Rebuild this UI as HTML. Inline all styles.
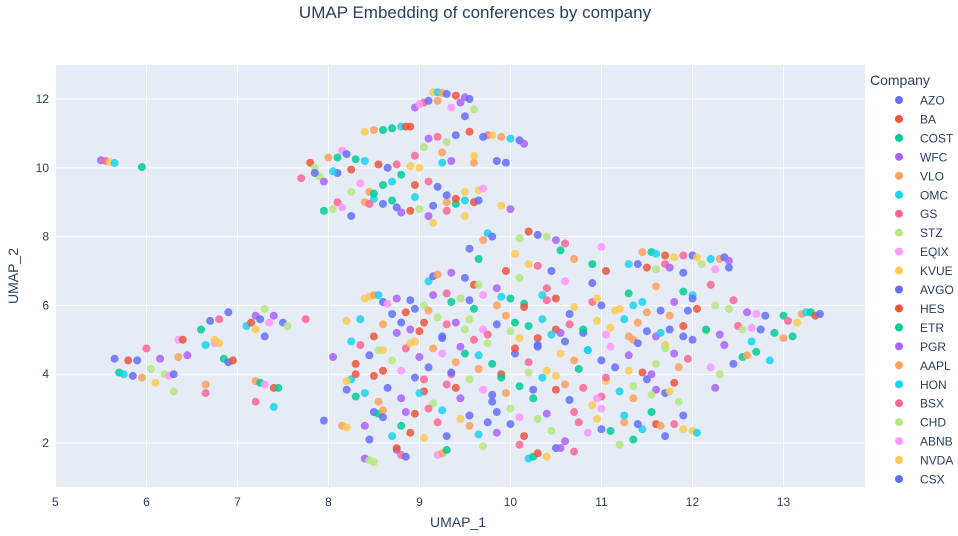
<!DOCTYPE html>
<html><head><meta charset="utf-8"><style>
body{margin:0;background:#fff;font-family:"Liberation Sans",Arial,sans-serif}
svg text{font-family:"Liberation Sans",Arial,sans-serif}
</style></head><body>
<svg id="chart" width="958" height="531">
<rect x="0" y="0" width="958" height="531" fill="#fff"/>
<rect x="55" y="65" width="810" height="422" fill="#e5ecf6"/>
<g id="grid"></g><g id="ticks"></g><g id="marks"></g><g id="legend"></g>
<text x="475" y="18" text-anchor="middle" font-size="17" fill="#2a3f5f">UMAP Embedding of conferences by company</text>
<text x="458" y="527" text-anchor="middle" font-size="14" fill="#2a3f5f">UMAP_1</text>
<text x="18" y="276" text-anchor="middle" font-size="14" fill="#2a3f5f" transform="rotate(-90 18 276)">UMAP_2</text>
</svg>
<script>
const companies=["AZO","BA","COST","WFC","VLO","OMC","GS","STZ","EQIX","KVUE","AVGO","HES","ETR","PGR","AAPL","HON","BSX","CHD","ABNB","NVDA","CSX"];
const palette=["#636efa","#EF553B","#00cc96","#ab63fa","#FFA15A","#19d3f3","#FF6692","#B6E880","#FF97FF","#FECB52"];
const xTicks=[5,6,7,8,9,10,11,12,13];
const yTicks=[2,4,6,8,10,12];
const xs=[5.5,5.55,5.6,5.65,5.95,
5.65,5.7,5.75,5.8,5.85,5.9,5.95,6.0,6.05,6.1,6.15,6.2,6.25,6.3,6.35,6.4,6.35,6.45,6.3,
6.6,6.65,6.7,6.75,6.8,6.85,6.9,6.95,6.8,6.65,6.65,6.75,6.9,
7.1,7.15,7.2,7.25,7.3,7.35,7.4,7.5,7.55,7.75,7.2,7.25,7.3,7.4,7.45,7.2,7.4,7.3,7.2,
7.95,8.15,8.2,8.25,8.2,8.3,
8.4,8.45,8.5,8.8,8.85,8.75,9.2,9.25,9.3,10.2,10.25,10.3,10.4,10.5,10.7,
9.15,9.2,9.25,9.3,9.4,9.5,9.55,9.0,8.95,9.05,9.35,9.6,9.5,8.5,8.6,8.7,8.8,8.9,8.4,9.75,9.7,9.8,9.9,10.0,10.1,10.15,9.4,9.55,9.3,9.2,9.1,9.05,8.15,8.2,8.1,8.0,8.3,8.4,8.55,8.65,8.75,8.9,9.0,9.25,9.35,9.6,9.85,9.95,7.8,7.85,7.9,7.7,7.95,8.1,8.35,8.45,8.6,8.7,8.8,8.95,9.1,9.2,9.5,9.65,8.4,8.5,8.6,8.75,8.8,8.9,9.0,9.1,8.1,8.05,8.15,8.25,7.95,9.3,9.4,9.5,9.6,9.65,9.3,9.5,9.15,9.75,9.7,9.8,10.0,10.2,10.3,10.4,10.5,10.6,10.1,9.55,9.65,
11.0,11.45,11.55,11.6,11.7,11.8,11.9,12.0,12.05,12.2,12.3,12.35,12.4,11.4,11.5,11.6,11.7,11.75,12.1,12.4,12.25,10.55,10.7,10.9,11.3,11.05,11.9,12.2,10.05,10.2,
9.1,9.15,9.2,9.35,9.5,9.6,9.65,9.85,10.1,10.4,10.6,10.9,11.3,11.6,11.9,12.0,9.95,10.3,10.45,
8.4,8.45,8.5,8.55,8.6,8.75,8.85,8.95,9.05,9.15,9.3,9.45,9.55,9.7,9.85,10.0,10.15,10.35,10.5,10.7,10.9,11.0,11.15,11.35,11.5,11.65,11.8,11.95,12.05,12.25,12.4,12.45,12.6,12.7,12.8,13.0,13.2,13.25,13.3,13.35,13.4,13.05,13.15,
8.2,8.35,8.6,8.7,8.8,8.9,9.05,9.2,9.3,9.4,9.55,9.7,9.85,9.95,10.05,10.2,10.35,10.5,10.65,10.8,10.95,11.1,11.25,11.4,11.5,11.6,11.75,11.9,12.15,12.3,12.5,12.55,12.65,12.75,12.9,13.0,13.1,8.25,8.5,8.95,9.25,9.6,10.1,10.45,11.3,12.0,
8.05,8.3,8.45,8.55,8.7,8.85,9.0,9.1,9.25,9.4,9.5,9.65,9.8,9.9,10.05,10.2,10.4,10.55,10.7,10.85,11.0,11.15,11.3,11.45,11.6,11.8,11.95,12.2,12.3,12.45,12.55,12.6,12.7,12.85,8.6,9.35,10.3,11.7,
8.2,8.4,8.55,8.65,8.8,8.95,9.05,9.15,9.3,9.45,9.55,9.7,9.8,9.95,10.1,10.25,10.35,10.5,10.65,10.8,10.9,11.05,11.2,11.35,11.5,11.6,11.7,11.8,11.85,8.85,9.1,10.0,11.0,
8.5,8.55,8.6,8.7,8.8,8.9,9.05,9.2,9.3,9.45,9.55,9.65,9.75,9.85,10.0,10.15,10.3,10.45,10.6,10.75,10.85,11.0,11.1,11.25,11.35,11.45,11.6,11.7,11.8,11.9,12.0,12.05,11.65,11.4,8.45,8.4,8.75,9.7,10.1,10.55,11.2,
8.65,8.9,9.1,9.35,9.6,9.9,10.15,10.4,10.65,10.95,11.2,11.45,11.75,12.0,8.75,9.0,9.25,9.5,9.75,10.0,10.3,10.55,10.8,11.05,11.35,11.65,11.9,12.15,8.35,8.6,8.9,9.15,9.45,9.75,10.05,10.3,10.6,10.85,11.1,11.4,11.7,12.35,12.65,8.5,8.8,9.05,9.35,9.65,9.9,10.2,10.5,10.75,11.05,11.3,11.55,11.85,8.6,8.95,9.25,9.55,9.85,10.1,10.4,10.7,10.95,11.25,11.55,11.9,8.3,9.0,9.4,9.8,10.25,10.6,11.0,11.35,11.75,12.25,11.55,10.95,
9.1,9.0,8.85,9.2,9.45,8.25,8.5,8.95,9.3,9.7,8.45,8.7,9.15,9.4,9.9,8.95,9.25,9.6,7.85,8.05,8.25];
const ys=[10.22,10.2,10.17,10.14,10.02,
4.45,4.05,4.0,4.4,3.95,4.4,3.9,4.75,4.15,3.75,4.45,4.0,3.95,4.0,5.0,5.0,4.5,4.55,3.5,
5.3,4.85,5.55,4.9,5.6,4.45,4.35,4.4,4.9,3.45,3.7,5.0,5.8,
5.4,5.5,5.7,5.6,5.9,5.5,5.7,5.5,5.4,5.6,3.8,3.75,3.7,3.6,3.6,3.2,3.05,5.1,5.3,
2.65,2.5,2.45,3.85,3.55,4.0,
1.55,1.5,1.45,1.65,1.6,1.8,1.65,1.7,1.8,1.55,1.6,1.7,1.6,1.85,1.75,
12.2,12.2,12.18,12.15,12.1,12.05,12.0,11.85,11.75,11.9,11.75,11.7,11.5,11.1,11.1,11.15,11.2,11.2,11.05,10.95,10.9,10.95,10.9,10.85,10.8,10.7,10.95,11.05,10.75,10.9,10.85,10.6,10.5,10.4,10.3,10.3,10.25,10.2,10.1,10.0,10.1,10.05,10.0,10.15,10.2,10.15,10.2,10.15,10.15,10.0,9.75,9.7,9.6,9.85,9.55,9.3,9.5,9.6,9.8,9.5,9.6,9.45,9.3,9.35,9.0,9.1,8.95,8.85,8.7,8.75,8.8,8.6,9.0,8.8,8.85,8.6,8.75,9.0,8.95,9.05,9.0,9.05,8.75,8.6,8.4,8.1,7.9,8.0,8.8,8.15,8.05,8.0,7.9,7.8,7.95,7.65,7.35,
7.7,7.55,7.55,7.5,7.45,7.4,7.45,7.45,7.4,7.35,7.35,7.4,7.3,7.2,7.1,7.05,7.2,7.1,7.2,7.1,7.05,7.6,7.35,7.2,7.2,7.0,6.95,6.6,7.5,7.2,
6.7,6.85,6.9,6.95,6.8,6.6,6.6,6.5,6.8,6.5,6.7,6.65,6.35,6.55,6.4,6.3,7.0,7.15,7.0,
6.2,6.25,6.3,6.3,6.1,6.2,5.8,5.9,6.0,6.3,6.35,6.2,6.15,6.3,6.0,6.2,6.05,6.3,6.2,5.95,6.1,6.0,5.85,6.0,5.8,5.85,6.1,5.85,5.9,6.0,5.9,6.15,5.8,5.75,5.7,5.7,5.75,5.8,5.8,5.7,5.75,5.55,5.5,
5.55,5.6,5.45,5.75,5.5,5.3,5.5,5.65,5.45,5.5,5.6,5.3,5.45,5.7,5.5,5.4,5.6,5.3,5.45,5.2,5.55,5.35,5.6,5.5,5.25,5.1,5.3,5.4,5.25,5.15,5.4,5.3,5.35,5.3,5.2,5.05,5.1,4.95,5.1,4.95,5.05,5.0,5.05,5.15,5.1,5.0,
4.5,4.3,4.55,4.7,4.4,4.75,4.5,4.2,4.6,4.35,4.6,4.55,4.3,4.0,4.6,4.35,4.1,4.6,4.4,4.7,4.4,4.2,4.55,4.05,4.3,4.6,4.45,4.2,4.0,4.3,4.5,4.55,4.65,4.4,4.1,4.0,4.8,4.85,
3.8,3.45,3.2,3.6,3.3,3.9,3.5,3.15,3.7,3.3,3.85,3.55,3.2,3.45,3.65,3.3,3.9,3.55,3.25,3.6,3.1,3.8,3.5,3.3,3.85,3.55,3.45,3.75,3.2,2.9,3.0,3.0,3.0,
2.9,2.85,2.95,2.2,2.5,2.3,2.15,2.6,2.2,2.7,2.5,2.25,2.6,2.3,2.55,2.2,2.7,2.35,2.05,2.6,2.3,2.4,2.35,2.6,2.1,2.4,2.55,2.2,2.55,2.4,2.35,2.3,2.5,2.55,2.1,2.5,1.85,1.9,1.95,1.85,1.95,
6.05,6.15,5.85,6.1,5.9,6.25,5.95,6.15,5.75,6.2,5.9,6.1,5.7,6.2,5.2,5.25,5.1,5.3,5.15,5.25,5.05,5.2,5.3,5.15,5.0,5.2,5.1,5.3,4.85,4.7,4.9,4.75,4.8,4.9,4.75,4.85,4.95,4.7,4.8,4.9,4.75,4.85,4.95,3.95,4.1,3.85,4.05,4.15,3.9,4.05,3.95,4.15,3.9,4.1,4.0,4.2,2.75,2.85,2.95,2.8,2.9,2.75,2.85,2.9,2.7,2.8,2.9,2.8,3.35,3.45,3.6,3.4,3.55,3.7,3.35,3.65,3.5,3.6,3.4,3.3,
11.95,11.85,11.2,11.95,11.9,9.3,9.25,9.15,9.2,9.4,8.95,9.05,8.9,9.1,8.9,10.35,10.45,10.35,9.85,9.9,9.95];
const codes="dgjpcamfbukeqhtnrsvilodhcfasgmkbjqetuplnvridahgocsbmqfkjuetpvlnrhgadsocfmbtkqjpeulnvrdgshaocmfbtqkjepunvlrgdhsacomfbkqtjpneuvlrhgdasocfmbqktjepuvnlrdghsacomfbkqtjpeunlvrdghacsomfbtqkjpeunvlrgdhascomfbkqtjpuenvlrdhgsacomfbqktjepunlvrdghasocmfbtqkjpeunvlrhgdsacofmbkqtjpeuvnlrgdhsaocmfbqktjpeunvlrdghsacomfbtkqjpeunlvrhgdasocfmbkqtjepuvnlrdgshacomfbqktjpeunvlrgdhsaocmfbkqtjpeunvlrdghsacofmbtqkjepunvlrhdgsacomfbkqtjpeuvnlrgdhsaocmfbqktjpeunlvrqhbdmsefacgtjonrlukpivhdfbsqaemrtcgjnoklpuvi";
const X0=55,X1=865,xmin=4.9956,xmax=13.896,Y0=65,Y1=487,ymin=0.72,ymax=12.99;
const sx=v=>X0+(v-xmin)/(xmax-xmin)*(X1-X0);
const sy=v=>Y1-(v-ymin)/(ymax-ymin)*(Y1-Y0);
const NS="http://www.w3.org/2000/svg";
function mk(tag,attrs,parent){const e=document.createElementNS(NS,tag);for(const k in attrs)e.setAttribute(k,attrs[k]);parent.appendChild(e);return e;}
const grid=document.getElementById('grid'),ticks=document.getElementById('ticks'),marks=document.getElementById('marks'),legend=document.getElementById('legend');
xTicks.forEach(t=>{
 const l=mk('line',{x1:sx(t),x2:sx(t),y1:Y0,y2:Y1,stroke:'#fff','stroke-width':1},grid);
 
 
 const tx=mk('text',{x:sx(t),y:Y1+19,'text-anchor':'middle','font-size':12,fill:'#2a3f5f'},ticks);
 tx.textContent=t;
 
 
});
yTicks.forEach(t=>{
 const l=mk('line',{x1:X0,x2:X1,y1:sy(t),y2:sy(t),stroke:'#fff','stroke-width':1},grid);
 
 
 const tx=mk('text',{x:X0-6,y:sy(t)+4,'text-anchor':'end','font-size':12,fill:'#2a3f5f'},ticks);
 tx.textContent=t;
 
 
});
const n=Math.min(xs.length,ys.length);
for(let i=0;i<n;i++){
 const ci=(codes.charCodeAt(i%codes.length)-97)%companies.length;
 const c=mk('circle',{cx:sx(xs[i]).toFixed(1),cy:sy(ys[i]).toFixed(1),r:4,fill:palette[ci%10],opacity:0.85},marks);
 
 
}
const lt=mk('text',{x:870,y:85,'font-size':14,fill:'#2a3f5f'},legend);
lt.textContent='Company';


companies.forEach((name,i)=>{
 const y=100+i*18.95;
 const g=mk('g',{},legend);
 
 
 mk('circle',{cx:899,cy:y,r:4,fill:palette[i%10]},g);
 const t=mk('text',{x:920,y:y+4.5,'font-size':12,fill:'#2a3f5f'},g);
 t.textContent=name;
});
</script>
</body></html>
